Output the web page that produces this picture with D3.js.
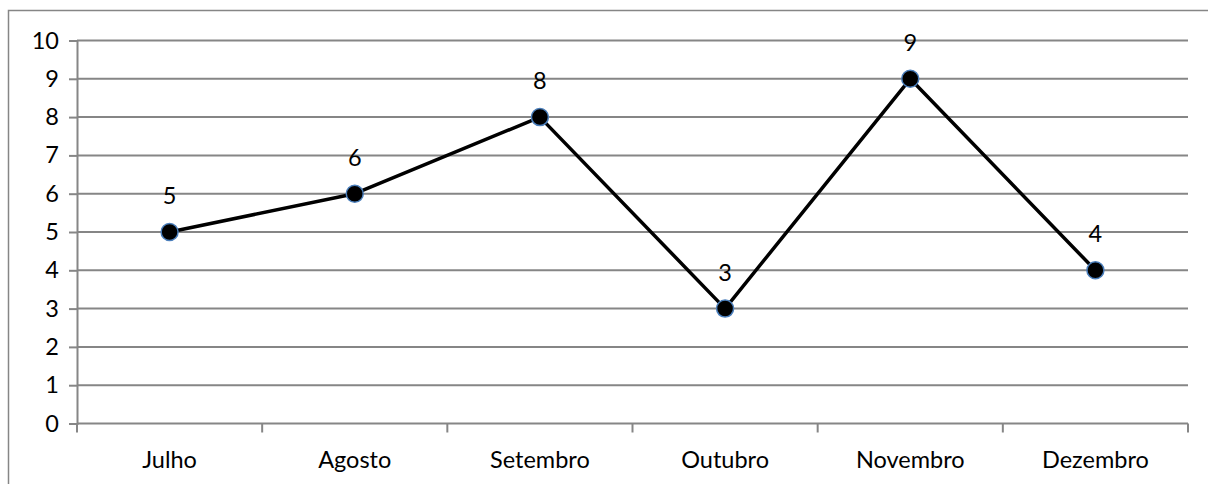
<!DOCTYPE html>
<html>
<head>
<meta charset="utf-8">
<script src="https://cdn.jsdelivr.net/npm/d3@7"></script>
<style>
  html, body { margin: 0; padding: 0; background: #fff; overflow: hidden; }
  svg { display: block; }
  text { font-family: Lato, "Open Sans", sans-serif; fill: #000; }
</style>
</head>
<body>
<svg id="chart" width="1208" height="484"></svg>
<script>
// Monthly values
const months = ["Julho", "Agosto", "Setembro", "Outubro", "Novembro", "Dezembro"];
const values = [5, 6, 8, 3, 9, 4];
const yTicks = [0, 1, 2, 3, 4, 5, 6, 7, 8, 9, 10];

const width = 1208, height = 484;
const plot = { left: 77, right: 1188, top: 40.5, bottom: 423.5 };
const fontSize = 23.5;

const svg = d3.select("#chart");

// outer chart frame (runs off the right and bottom edges)
svg.append("rect")
  .attr("x", 8.5).attr("y", 10.5)
  .attr("width", 1300).attr("height", 600)
  .attr("fill", "none").attr("stroke", "#868686").attr("stroke-width", 1.5);

const x = d3.scaleBand().domain(months).range([plot.left, plot.right]).padding(0);
const y = d3.scaleLinear().domain([0, 10]).range([plot.bottom, plot.top]);

// y axis
const yAxis = d3.axisLeft(y).tickValues(yTicks).tickSize(8).tickPadding(10).tickFormat(d3.format("d"));
const gy = svg.append("g").attr("transform", `translate(${plot.left},0)`).call(yAxis);
gy.select(".domain").attr("stroke", "#868686").attr("stroke-width", 2);
gy.selectAll(".tick line").attr("stroke", "#868686").attr("stroke-width", 2);
gy.selectAll(".tick text").style("font-size", fontSize + "px").attr("fill", "#000");

// horizontal gridlines
svg.append("g").selectAll("line").data(yTicks.filter(d => d > 0)).join("line")
  .attr("x1", plot.left).attr("x2", plot.right)
  .attr("y1", d => y(d)).attr("y2", d => y(d))
  .attr("stroke", "#868686").attr("stroke-width", 2);

// x axis with tick marks at category boundaries
const gx = svg.append("g").attr("transform", `translate(0,${plot.bottom})`);
gx.append("line").attr("x1", plot.left).attr("x2", plot.right)
  .attr("stroke", "#868686").attr("stroke-width", 2);
const bounds = months.map(m => x(m)).concat([x(months[months.length - 1]) + x.bandwidth()]);
gx.selectAll("line.tk").data(bounds).join("line").attr("class", "tk")
  .attr("x1", d => d).attr("x2", d => d).attr("y1", 0).attr("y2", 9)
  .attr("stroke", "#868686").attr("stroke-width", 2);
gx.selectAll("text").data(months).join("text")
  .attr("x", d => x(d) + x.bandwidth() / 2).attr("y", 44)
  .attr("text-anchor", "middle").style("font-size", fontSize + "px")
  .text(d => d);

// series line
const cx = (d, i) => x(months[i]) + x.bandwidth() / 2;
const line = d3.line().x(cx).y(d => y(d));
svg.append("path").datum(values)
  .attr("d", line).attr("fill", "none")
  .attr("stroke", "#000").attr("stroke-width", 3.5).attr("stroke-linejoin", "round");

// markers
svg.append("g").selectAll("circle").data(values).join("circle")
  .attr("cx", cx).attr("cy", d => y(d)).attr("r", 8.5)
  .attr("fill", "#000").attr("stroke", "#4a7ebb").attr("stroke-width", 1.5);

// data labels
svg.append("g").selectAll("text").data(values).join("text")
  .attr("x", cx).attr("y", d => y(d) - 28)
  .attr("text-anchor", "middle").style("font-size", fontSize + "px")
  .text(d => d);
</script>
</body>
</html>
